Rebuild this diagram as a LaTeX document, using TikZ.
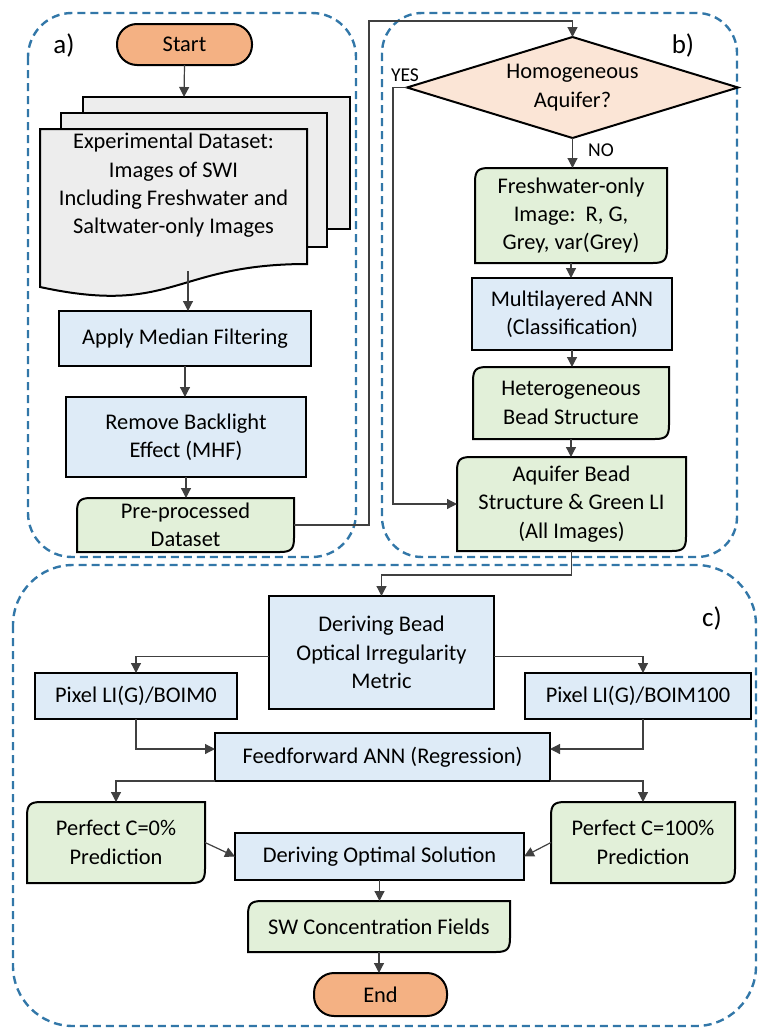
\documentclass[tikz,border=0pt]{standalone}
\usepackage{fontspec}
\setmainfont{Carlito}
\usetikzlibrary{arrows.meta,shapes.geometric,calc}
\definecolor{flowBlue}{HTML}{DEEBF7}
\definecolor{flowGreen}{HTML}{E2F0D9}
\definecolor{flowOrange}{HTML}{F4B183}
\definecolor{flowPeach}{HTML}{FBE5D6}
\definecolor{flowGrey}{HTML}{EDEDED}
\definecolor{panelBlue}{HTML}{3277A8}
\pgfdeclarelayer{bg}
\pgfsetlayers{bg,main}
\newcommand{\greenframe}[1]{%
\begin{pgfonlayer}{bg}
\filldraw[fill=flowGreen,line width=1pt] ([yshift=-7pt]#1.north west) .. controls ([yshift=-1.5pt]#1.north west) and ([xshift=1.5pt]#1.north west) .. ([xshift=7pt]#1.north west)
  -- (#1.north east) -- ([yshift=7pt]#1.south east) .. controls ([yshift=1.5pt]#1.south east) and ([xshift=-1.5pt]#1.south east) .. ([xshift=-7pt]#1.south east)
  -- (#1.south west) -- cycle;
\end{pgfonlayer}}

\begin{document}
\begin{tikzpicture}[x=0.5pt,y=-0.5pt,font=\fontsize{11.2}{14.2}\selectfont,>={Triangle[length=5pt,width=5pt]},
  procbox/.style={draw,line width=1pt,fill=flowBlue,inner sep=0pt,outer sep=0pt,align=center},
  outbox/.style={inner sep=0pt,outer sep=0pt,align=center},
  termbox/.style={draw,line width=1pt,fill=flowOrange,rounded corners=10pt,inner sep=0pt,outer sep=0pt},
  decbox/.style={diamond,aspect=3.3,draw,line width=1pt,fill=flowPeach,inner sep=0pt,outer sep=0pt,align=center},
  panel/.style={draw=panelBlue,line width=1.2pt,dash pattern=on 4pt off 2.5pt},
  link/.style={->,draw=black!75,line width=0.6pt},
  tag/.style={font=\fontsize{13.5}{16}\selectfont},
  yesno/.style={font=\fontsize{9.8}{12}\selectfont}]
\useasboundingbox (0,0) rectangle (759,1028);
% dashed panels
\begin{pgfonlayer}{bg}
\draw[panel,rounded corners=22pt] (28,13) rectangle (356,557);
\draw[panel,rounded corners=20pt] (382,13) rectangle (737,557);
\draw[panel,rounded corners=30pt] (13,565) rectangle (756,1026);
\end{pgfonlayer}
\node[tag] (taga) at (64,45) {a)};
\node[tag] (tagb) at (683,45) {b)};
\node[tag] (tagc) at (712,618) {c)};
% a) pre-processing
\node[termbox,minimum width=67.5pt,minimum height=20.5pt] (start) at (184.5,44.5) {Start};
\begin{pgfonlayer}{bg}
\filldraw[fill=flowGrey,line width=1pt] (83,97) rectangle (350,229);
\filldraw[fill=flowGrey,line width=1pt] (61,113) rectangle (327,247);
\filldraw[fill=flowGrey,line width=1pt] (40,129) -- (307,129) -- (307,264) .. controls (173.5,264) and (173.5,316) .. (40,287) -- cycle;
\end{pgfonlayer}
\coordinate (dataTop) at (184,97);
\coordinate (dataBot) at (188,271);
\node[outbox] (data) at (173.5,185.5) {Experimental Dataset:\\Images of SWI\\Including Freshwater and\\Saltwater-only Images};
\node[procbox,minimum width=126pt,minimum height=27.5pt] (median) at (185,338.5) {Apply Median Filtering};
\node[procbox,minimum width=120pt,minimum height=40pt] (backlight) at (186,437) {Remove Backlight\\Effect (MHF)};
\node[outbox,minimum width=108.5pt,minimum height=27pt] (prep) at (185.5,525) {Pre-processed\\Dataset};
% b) bead structure
\node[decbox,minimum width=165.5pt,minimum height=50.5pt] (homog) at (572.5,87.5) {Homogeneous\\Aquifer?};
\node[outbox,minimum width=96pt,minimum height=47.5pt] (fresh) at (571,215.5) {Freshwater-only\\Image:\ \ R, G,\\Grey, var(Grey)};
\node[procbox,minimum width=100pt,minimum height=36pt] (multi) at (572,314) {Multilayered ANN\\(Classification)};
\node[outbox,minimum width=98pt,minimum height=36pt] (hetero) at (571,403) {Heterogeneous\\Bead Structure};
\node[outbox,minimum width=114.5pt,minimum height=47pt] (aqbead) at (571.5,504) {Aquifer Bead\\Structure \& Green LI\\(All Images)};
\node[yesno] (yes) at (405,75) {YES};
\node[yesno] (no) at (601,150) {NO};
% c) concentration
\node[procbox,minimum width=112.5pt,minimum height=56.5pt] (bead) at (381.5,652.5) {Deriving Bead\\Optical Irregularity\\Metric};
\node[procbox,minimum width=101pt,minimum height=23pt] (pix0) at (136,696) {Pixel LI(G)/BOIM0};
\node[procbox,minimum width=113pt,minimum height=23pt] (pix100) at (638,696) {Pixel LI(G)/BOIM100};
\node[procbox,minimum width=167.5pt,minimum height=24pt] (ffann) at (382.5,757) {Feedforward ANN (Regression)};
\node[outbox,minimum width=89pt,minimum height=40.5pt] (perf0) at (116,842.5) {Perfect C=0\%\\Prediction};
\node[outbox,minimum width=92pt,minimum height=40.5pt] (perf100) at (643,842.5) {Perfect C=100\%\\Prediction};
\node[procbox,minimum width=144.5pt,minimum height=23.5pt] (optim) at (379.5,856.5) {Deriving Optimal Solution};
\node[outbox,minimum width=131pt,minimum height=25.5pt] (swconc) at (379,926.5) {SW Concentration Fields};
\node[termbox,minimum width=66.5pt,minimum height=21.5pt] (stop) at (380.5,994.5) {End};
\foreach \g in {prep,fresh,hetero,aqbead,perf0,perf100,swconc} {\greenframe{\g}}
% connectors
\draw[link] (start.south) -- (dataTop);
\draw[link] (dataBot) -- (dataBot |- median.north);
\draw[link] (median.south) -- (median.south |- backlight.north);
\draw[link] (backlight.south) -- (backlight.south |- prep.north);
\draw[link] (prep.east) -| (369,21) -| (homog.north);
\draw[link] (homog.west) -- ++(-14,0) |- (aqbead.west);
\draw[link] (homog.south) -- (homog.south |- fresh.north);
\draw[link] (fresh.south) -- (fresh.south |- multi.north);
\draw[link] (multi.south) -- (multi.south |- hetero.north);
\draw[link] (hetero.south) -- (hetero.south |- aqbead.north);
\draw[link] (aqbead.south) -- ++(0,24) -| (bead.north);
\draw[link] ([yshift=-2pt]bead.west) -| (pix0.north);
\draw[link] ([yshift=-2pt]bead.east) -| ([xshift=2.5pt]pix100.north);
\draw[link] (pix0.south) |- ([yshift=4pt]ffann.west);
\draw[link] ([xshift=2.5pt]pix100.south) |- ([yshift=4pt]ffann.east);
\draw[link] (ffann.south west) -| (perf0.north);
\draw[link] (ffann.south east) -| (perf100.north);
\draw[link] (perf0.east) -- (optim.west);
\draw[link] (perf100.west) -- (optim.east);
\draw[link] (optim.south) -- (optim.south |- swconc.north);
\draw[link] (swconc.south) -- (swconc.south |- stop.north);
\end{tikzpicture}
\end{document}
